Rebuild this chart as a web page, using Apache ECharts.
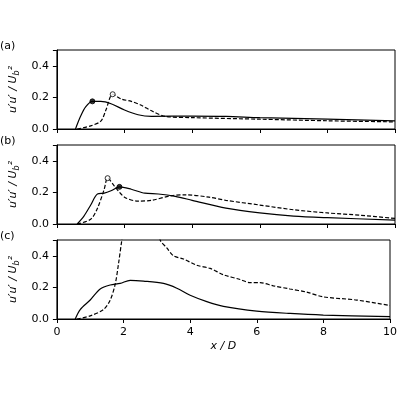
<!DOCTYPE html><html><head><meta charset="utf-8"><script src="https://cdn.jsdelivr.net/npm/echarts@6/dist/echarts.min.js"></script></head><body style="margin:0"><div id="c" style="width:400px;height:400px"></div><script>
const aSolid=[[0.55,0],[0.7,0.08],[0.85,0.14],[1.05,0.175],[1.3,0.175],[1.6,0.16],[2.0,0.12],[2.4,0.09],[2.8,0.08],[4,0.082],[5,0.08],[6,0.072],[8,0.062],[10,0.052]];
const aDash=[[0.6,0],[1.0,0.02],[1.3,0.05],[1.45,0.12],[1.65,0.22],[1.9,0.19],[2.2,0.175],[2.5,0.15],[2.8,0.115],[3.2,0.08],[4,0.072],[6,0.062],[8,0.052],[10,0.045]];
const bSolid=[[0.6,0],[0.8,0.05],[1.0,0.12],[1.2,0.19],[1.4,0.195],[1.6,0.21],[1.85,0.235],[2.2,0.22],[2.6,0.195],[3,0.19],[3.5,0.175],[4,0.15],[5,0.1],[6,0.07],[7,0.05],[8,0.04],[10,0.025]];
const bDash=[[0.6,0],[1.0,0.03],[1.2,0.1],[1.4,0.22],[1.5,0.29],[1.7,0.24],[2.0,0.17],[2.4,0.145],[2.8,0.15],[3.4,0.18],[3.8,0.185],[4.5,0.17],[5,0.15],[6,0.12],[7,0.09],[8,0.07],[9,0.055],[10,0.035]];
const cSolid=[[0.55,0],[0.7,0.06],[1.0,0.12],[1.3,0.19],[1.6,0.215],[1.9,0.225],[2.2,0.245],[2.6,0.24],[3.2,0.225],[3.6,0.195],[4,0.15],[4.5,0.11],[5,0.08],[6,0.05],[7,0.035],[8,0.025],[10,0.015]];
const cDash=[[0.6,0],[1.0,0.02],[1.4,0.06],[1.6,0.12],[1.75,0.22],[1.85,0.35],[1.95,0.5],[2.1,0.7],[2.9,0.7],[3.1,0.5],[3.3,0.45],[3.5,0.4],[3.8,0.38],[4.2,0.34],[4.6,0.32],[5,0.28],[5.5,0.25],[5.8,0.23],[6.1,0.23],[6.5,0.21],[7,0.19],[7.5,0.17],[8,0.14],[9,0.12],[10,0.085]];
const markA={solid:[1.05,0.175],dash:[1.65,0.22]}, markB={solid:[1.85,0.235],dash:[1.5,0.29]};
const yTicks=[0,0.2,0.4], labels=['(a)','(b)','(c)'];
const tops=[50,145,240];
const F='DejaVu Sans';
const grids=tops.map(t=>({left:51,width:344,top:t,height:79,show:true,borderColor:'#000',borderWidth:1,backgroundColor:'transparent'}));
const xAxis=tops.map((t,i)=>({gridIndex:i,type:'value',min:0,max:10,interval:2,
 axisLine:{show:true,onZero:false,lineStyle:{color:'#000'}},axisTick:{inside:false,length:4,lineStyle:{color:'#000'}},
 axisLabel:{show:i==2,color:'#000',fontFamily:F,fontSize:11},splitLine:{show:false},
 name:i==2?'x / D':'',nameLocation:'middle',nameGap:22,nameTextStyle:{fontFamily:F,fontStyle:'italic',fontSize:11,color:'#000'}}));
const yAxis=tops.map((t,i)=>({gridIndex:i,type:'value',min:0,max:0.5,interval:0.2,
 axisLine:{show:true,lineStyle:{color:'#000'}},axisTick:{length:4,lineStyle:{color:'#000'}},
 axisLabel:{color:'#000',fontFamily:F,fontSize:11,formatter:v=>yTicks.includes(+v.toFixed(1))?v.toFixed(1):''},splitLine:{show:false},
 name:"{m|u′u′ / U}{s|b}{m|²}",nameLocation:'middle',nameGap:32,
 nameTextStyle:{color:'#000',rich:{m:{fontFamily:F,fontStyle:'italic',fontSize:11,color:'#000'},s:{fontFamily:F,fontStyle:'italic',fontSize:8,color:'#000',verticalAlign:'bottom',padding:[6,0,0,0]}}}}));
function line(d,i,dash){return {type:'line',xAxisIndex:i,yAxisIndex:i,data:d,smooth:0.3,showSymbol:false,clip:true,
 lineStyle:{color:'#000',width:1.2,type:dash?[4,2]:'solid'}};}
function mk(p,i,open){return {type:'scatter',xAxisIndex:i,yAxisIndex:i,data:[p],symbolSize:5,z:5,
 itemStyle:{color:open?'#fff':'#000',borderColor:'#000',borderWidth:1}};}
const series=[line(aSolid,0,false),line(aDash,0,true),line(bSolid,1,false),line(bDash,1,true),line(cSolid,2,false),line(cDash,2,true),
 mk(markA.solid,0,false),mk(markA.dash,0,true),mk(markB.solid,1,false),mk(markB.dash,1,true)];
const ch=echarts.init(document.getElementById('c'));
ch.setOption({animation:false,backgroundColor:'#fff',grid:grids,xAxis,yAxis,series,
 graphic:tops.map((t,i)=>({type:'text',left:0,top:t-9,style:{text:labels[i],font:'11px DejaVu Sans',fill:'#000'}}))});
</script></body></html>
